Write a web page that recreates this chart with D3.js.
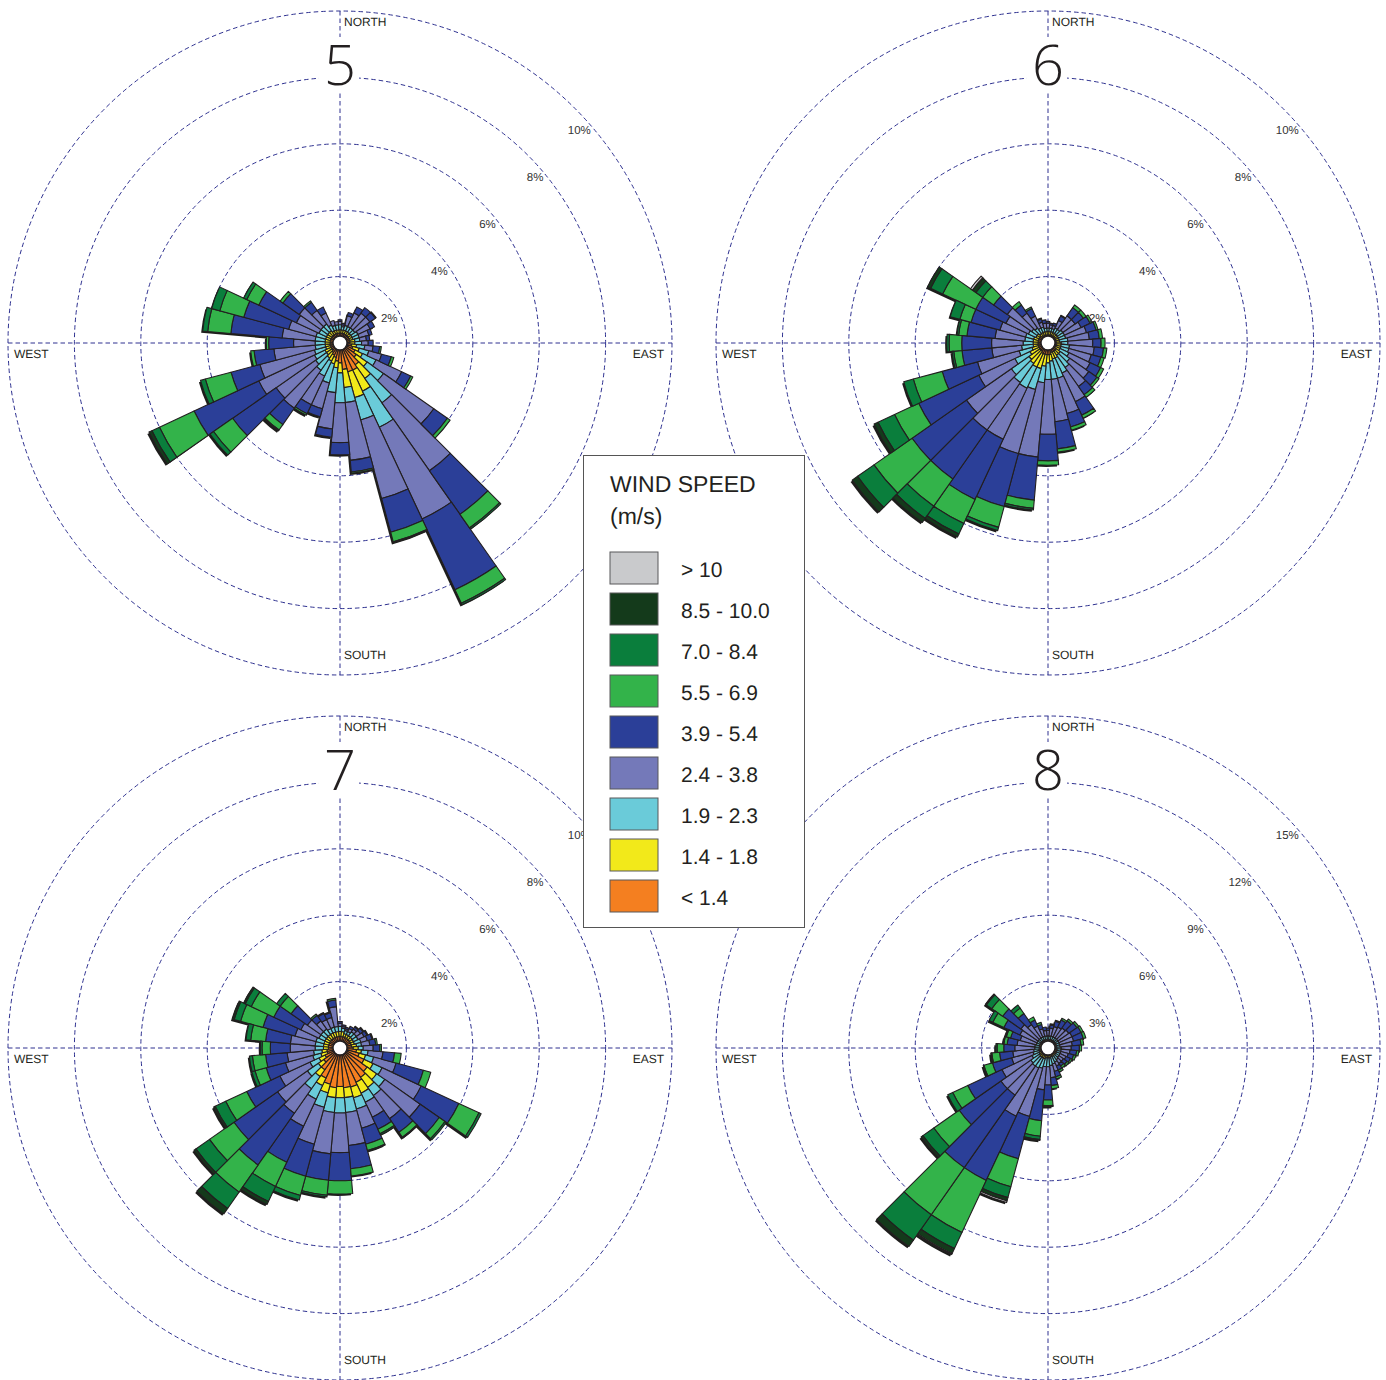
<!DOCTYPE html>
<html><head><meta charset="utf-8">
<script src="https://cdn.jsdelivr.net/npm/d3@7"></script>
<style>html,body{margin:0;padding:0;background:#fff;} svg{display:block;} text{text-rendering:geometricPrecision;}</style>
</head><body><svg id="chart" width="1386" height="1380"></svg>
<script>
// ---------------- DATA ----------------
const directions = [0,10,20,30,40,50,60,70,80,90,100,110,120,130,140,150,160,170,
                    180,190,200,210,220,230,240,250,260,270,280,290,300,310,320,330,340,350];
const speedClasses = ["< 1.4","1.4 - 1.8","1.9 - 2.3","2.4 - 3.8","3.9 - 5.4","5.5 - 6.9","7.0 - 8.4","8.5 - 10.0","> 10"];
const speedColors  = ["#f47f20","#f2e91a","#6acbd9","#7479b9","#2b3f98","#33b34a","#0a7e3c","#143a1b","#c9cacc"];
const roseTitles = ["5","6","7","8"];
const ringTicksA = [2,4,6,8,10];
const ringTicksB = [3,6,9,12,15];
const compassLabels = ["NORTH","EAST","SOUTH","WEST"];

// Cumulative frequency (%) at the upper end of each speed class, one row per direction
// (rows stop at the last class that is present)
const rose5 = [
 [.3,.4,.55,.65,.7],[.3,.4,.5,.55,.6],[.3,.4,.55,.85,.95],[.3,.4,.55,1.0,1.2],
 [.3,.4,.55,1.1,1.3],[.3,.4,.55,1.1,1.3,1.33],[.3,.4,.6,1.0,1.15],[.3,.4,.6,.9,1.0],
 [.3,.45,.6,.8,.9],[.3,.45,.65,.85,1.0],[.35,.5,.75,1.0,1.2,1.25],[.4,.6,.9,1.3,1.6,1.68],
 [.5,.75,1.2,2.05,2.35,2.42],[.6,1.0,1.6,3.45,3.95,4.05],[.8,1.3,2.2,4.7,6.3,6.8,6.85],
 [.9,1.6,2.8,5.85,8.2,8.65,8.7],[.9,1.7,2.4,4.85,5.9,6.2,6.23],[.8,1.35,1.8,3.55,3.9,3.94],
 [.6,.9,1.8,3.0,3.37],[.55,.75,1.5,2.6,2.85],[.45,.65,1.25,2.05,2.3],[.4,.6,1.1,2.05,2.35,2.4],
 [.35,.55,1.0,2.4,3.0,3.2,3.23],[.3,.5,.9,2.35,3.95,4.65,4.78],[.3,.5,.85,2.7,4.85,6.0,6.25,6.35],
 [.3,.45,.8,2.5,3.4,4.2,4.35],[.3,.45,.75,2.0,2.6,2.7],[.3,.45,.75,1.4,2.15,2.22],
 [.3,.45,.75,1.75,3.3,4.0,4.15],[.3,.45,.75,1.6,3.0,3.75,4.0],[.3,.45,.7,1.45,2.7,3.1,3.2],
 [.3,.45,.7,1.5,2.1,2.2],[.3,.45,.7,1.2,1.5,1.55],[.3,.4,.6,1.0,1.2],[.3,.4,.55,.7],[.3,.4,.55,.65]
];
const rose6 = [
 [.25,.35,.45,.6,.65],[.25,.35,.45,.55,.6],[.25,.35,.45,.55,.62],[.25,.35,.5,.75,.9,.92],
 [.25,.35,.5,1.0,1.3,1.4],[.25,.35,.55,1.0,1.3,1.4],[.25,.35,.55,1.1,1.4,1.47],[.25,.35,.55,1.2,1.5,1.56],
 [.25,.35,.6,1.25,1.55,1.65],[.25,.4,.6,1.35,1.6,1.72],[.25,.4,.65,1.4,1.68,1.78],[.25,.4,.65,1.35,1.65,1.75],
 [.25,.4,.7,1.4,1.75,1.85],[.3,.45,.8,1.5,1.8,1.88],[.3,.45,.9,1.6,1.9,2.0],[.3,.5,1.0,1.95,2.4,2.5],
 [.3,.5,1.1,2.2,2.62,2.72],[.35,.55,1.1,2.38,3.2,3.3],[.35,.6,1.1,2.75,3.55,3.68],[.35,.7,1.2,3.45,4.75,5.0,5.05],
 [.35,.8,1.45,3.45,5.1,5.75,5.85],[.35,.8,1.5,3.2,5.2,6.0,6.35,6.45],[.3,.75,1.45,3.2,5.0,6.0,6.45,6.6],
 [.3,.7,1.35,3.0,5.0,6.4,7.0,7.2],[.3,.6,1.1,2.3,4.3,5.1,5.65,5.78],[.3,.5,.9,2.2,3.3,4.2,4.5],
 [.3,.45,.8,1.7,2.6,2.85,2.9],[.3,.45,.75,1.7,2.6,2.98,3.05],[.3,.45,.7,1.6,2.45,2.7,2.75],
 [.3,.45,.7,1.5,2.4,2.75,3.05],[.3,.4,.65,1.4,2.4,3.5,3.9,4.0],[.3,.4,.6,1.5,2.0,2.4,2.65,2.78,2.85],
 [.25,.35,.55,1.1,1.4,1.52],[.25,.35,.5,.9,1.15,1.2],[.25,.35,.5,.65,.75,.78],[.25,.35,.45,.6,.7]
];
const rose7 = [
 [.35,.5,.65,.75,.8],[.35,.5,.6,.65,.7],[.35,.45,.55,.6,.65],[.35,.45,.55,.65,.72],
 [.35,.45,.6,.7,.77,.8],[.35,.45,.6,.75,.85,.88],[.35,.45,.6,.8,.9,.93],[.35,.45,.65,.85,1.0,1.03],
 [.35,.5,.65,.9,1.08,1.13],[.4,.55,.7,1.0,1.2,1.25],[.5,.65,.85,1.3,1.65,1.85],[.6,.8,1.05,1.75,2.6,2.83],
 [.8,1.1,1.4,2.7,3.95,4.62,4.69],[1.0,1.35,1.65,2.95,3.65,3.86,3.91],[1.08,1.45,1.75,2.6,3.1,3.28,3.31],
 [1.14,1.5,1.8,2.3,2.7,2.85,2.89],[1.22,1.55,1.9,2.5,3.0,3.2,3.22],[1.2,1.5,1.95,2.95,3.65,3.87],
 [1.16,1.5,1.96,3.15,4.0,4.4],[1.2,1.5,1.95,3.2,4.0,4.45,4.5],[1.13,1.4,1.85,3.0,4.0,4.6,4.74],
 [1.0,1.25,1.7,2.6,3.8,4.6,5.1,5.2],[.8,1.05,1.5,2.4,4.3,5.3,5.9,6.1],[.6,.8,1.2,2.3,3.9,4.8,5.3,5.37],
 [.5,.7,1.0,2.0,3.1,3.8,4.15,4.2],[.4,.6,.85,1.7,2.3,2.65,2.75],[.4,.55,.8,1.6,2.25,2.65,2.74],
 [.35,.5,.75,1.5,2.1,2.35,2.4],[.35,.5,.75,1.5,2.25,2.7,2.84],[.35,.5,.75,1.4,2.4,3.1,3.3,3.35],
 [.35,.5,.7,1.3,2.2,2.95,3.15,3.2],[.35,.5,.7,1.2,1.8,2.2,2.33],[.35,.5,.7,1.0,1.2,1.25],
 [.35,.5,.65,.95,1.15,1.18],[.35,.5,.65,.95,1.1,1.13],[.35,.5,.65,1.25,1.45,1.5]
];
const rose8 = [
 [.33,.4,.55,.8,.9],[.33,.4,.55,.9,1.05,1.1],[.33,.4,.55,1.0,1.25,1.3],[.33,.4,.55,1.05,1.4,1.48],
 [.33,.4,.55,1.1,1.5,1.6],[.33,.4,.55,1.15,1.6,1.7],[.33,.4,.55,1.2,1.65,1.75],[.33,.4,.55,1.2,1.65,1.77],
 [.33,.4,.55,1.1,1.5,1.62],[.33,.4,.6,1.05,1.42,1.52],[.33,.42,.6,1.0,1.3,1.4],[.33,.42,.6,.95,1.2,1.3],
 [.33,.42,.6,.9,1.12,1.2],[.33,.42,.6,.85,1.05,1.15],[.33,.42,.65,.85,1.0,1.1],[.33,.42,.7,.9,1.1,1.2],
 [.33,.42,.75,1.1,1.35,1.45],[.33,.45,.8,1.35,1.7,1.85],[.34,.45,.85,1.67,2.35,2.6,2.65],
 [.34,.45,.85,1.9,3.3,4.0,4.15,4.19],[.35,.5,.95,3.2,5.18,6.49,7.0,7.15,7.23],
 [.36,.5,1.0,3.4,6.6,9.2,10.0,10.25,10.3],[.36,.5,1.0,2.6,6.6,9.2,10.6,10.95],
 [.35,.48,.95,2.6,4.9,6.3,6.9,7.0],[.34,.45,.8,2.3,4.0,4.75,5.0],[.33,.42,.7,1.7,2.6,3.0,3.03],
 [.33,.42,.65,1.6,2.2,2.55,2.6],[.33,.4,.6,1.5,2.0,2.3,2.36],[.33,.4,.6,1.4,1.85,2.0,2.03],
 [.33,.4,.55,1.3,1.75,1.95,2.0],[.33,.4,.55,1.4,2.2,2.75,2.93],[.33,.4,.55,1.5,2.5,3.1,3.4,3.45],
 [.33,.4,.55,1.3,1.9,2.2,2.37],[.33,.4,.55,1.1,1.4,1.55],[.33,.4,.55,.9,1.1,1.2],[.33,.4,.55,.8,.95]
];

// ---------------- LAYOUT ----------------
const svg = d3.select("#chart");
const R = 332;
const gridColor = "#2e3190";
const lineFont = "'Liberation Sans', Arial, sans-serif";
const roses = [
  {title: roseTitles[0], cx: 340,  cy: 343,  ticks: ringTicksA, data: rose5},
  {title: roseTitles[1], cx: 1048, cy: 343,  ticks: ringTicksA, data: rose6},
  {title: roseTitles[2], cx: 340,  cy: 1048, ticks: ringTicksA, data: rose7},
  {title: roseTitles[3], cx: 1048, cy: 1048, ticks: ringTicksB, data: rose8}
];
roses.forEach(r => { r.scale = d3.scaleLinear().domain([0, d3.max(r.ticks)]).range([0, R]); });

// grids
roses.forEach(r => {
  const g = svg.append("g").attr("transform", `translate(${r.cx},${r.cy})`);
  g.selectAll("circle").data(r.ticks).join("circle")
    .attr("r", d => r.scale(d)).attr("fill", "none")
    .attr("stroke", gridColor).attr("stroke-width", 1).attr("stroke-dasharray", "4.5,3");
  g.append("line").attr("x1", -R).attr("x2", R).attr("y1", 0).attr("y2", 0)
    .attr("stroke", gridColor).attr("stroke-width", 1).attr("stroke-dasharray", "4.5,3");
  g.append("line").attr("y1", -R).attr("y2", R).attr("x1", 0).attr("x2", 0)
    .attr("stroke", gridColor).attr("stroke-width", 1).attr("stroke-dasharray", "4.5,3");
});

// bars
const arc = d3.arc();
const toRad = d => d * Math.PI / 180;
roses.forEach(r => {
  const g = svg.append("g").attr("transform", `translate(${r.cx},${r.cy})`);
  const rows = r.data.map(row => speedClasses.map((_, i) => row[Math.min(i, row.length - 1)]));
  const stacked = d3.stack().keys(d3.range(speedClasses.length))
    .value((row, k) => row[k] - (k ? row[k - 1] : 0))(rows);
  // shadow
  g.append("g").attr("transform", "translate(-1.6,1.8)")
    .selectAll("path").data(rows).join("path")
    .attr("d", (row, i) => arc({innerRadius: 0, outerRadius: r.scale(row[row.length - 1]),
        startAngle: toRad(directions[i] - 5), endAngle: toRad(directions[i] + 5)}))
    .attr("fill", "#1d1d1b");
  stacked.forEach((layer, k) => {
    g.append("g").selectAll("path")
      .data(layer.map((d, i) => ({d, i})).filter(o => o.d[1] - o.d[0] > 0.0001))
      .join("path")
      .attr("d", o => arc({innerRadius: r.scale(o.d[0]), outerRadius: r.scale(o.d[1]),
          startAngle: toRad(directions[o.i] - 5), endAngle: toRad(directions[o.i] + 5)}))
      .attr("fill", speedColors[k]).attr("stroke", "#231f20").attr("stroke-width", 1.1)
      .attr("stroke-linejoin", "round");
  });
  g.append("circle").attr("r", 7).attr("fill", "#fff").attr("stroke", "#231f20").attr("stroke-width", 1.4);
});

// labels
roses.forEach(r => {
  const g = svg.append("g").attr("transform", `translate(${r.cx},${r.cy})`)
    .style("font-family", lineFont).attr("fill", "#231f20");
  g.append("rect").attr("x", -21).attr("y", -306).attr("width", 40).attr("height", 54).attr("fill", "#fff");
  g.append("text").attr("x", 0).attr("y", -258).attr("text-anchor", "middle")
    .attr("font-size", 56).style("font-family", "'Open Sans', 'Noto Sans', sans-serif")
    .attr("font-weight", 300).attr("fill", "#231f20").text(r.title);
  g.append("text").attr("x", 4).attr("y", -R + 15).attr("font-size", 12).text(compassLabels[0]);
  g.append("text").attr("x", R - 8).attr("y", 15).attr("font-size", 12).attr("text-anchor", "end").text(compassLabels[1]);
  g.append("text").attr("x", 4).attr("y", R - 16).attr("font-size", 12).text(compassLabels[2]);
  g.append("text").attr("x", -R + 6).attr("y", 15).attr("font-size", 12).text(compassLabels[3]);
  r.ticks.forEach(t => {
    const rr = r.scale(t);
    const yc = -rr * Math.SQRT1_2 + 22;
    const xr = Math.sqrt(rr * rr - yc * yc) - 4;
    g.append("text").attr("x", xr).attr("y", yc + 4).attr("font-size", 11.5)
      .attr("text-anchor", "end").attr("fill", "#333").text(t + "%");
  });
});

// legend
const lg = svg.append("g").style("font-family", lineFont).attr("fill", "#231f20");
lg.append("rect").attr("x", 583.5).attr("y", 455.5).attr("width", 221).attr("height", 472)
  .attr("fill", "#fff").attr("stroke", "#555").attr("stroke-width", 1);
lg.append("text").attr("x", 610).attr("y", 492).attr("font-size", 23).text("WIND SPEED");
lg.append("text").attr("x", 610).attr("y", 524).attr("font-size", 23).text("(m/s)");
const legendOrder = d3.range(speedClasses.length).reverse();
const ly = d3.scaleBand().domain(legendOrder).range([552, 552 + 41 * legendOrder.length]);
legendOrder.forEach(k => {
  lg.append("rect").attr("x", 610).attr("y", ly(k)).attr("width", 48).attr("height", 32)
    .attr("fill", speedColors[k]).attr("stroke", "#58595b").attr("stroke-width", 1);
  lg.append("text").attr("x", 681).attr("y", ly(k) + 25).attr("font-size", 21).text(speedClasses[k]);
});
</script></body></html>
